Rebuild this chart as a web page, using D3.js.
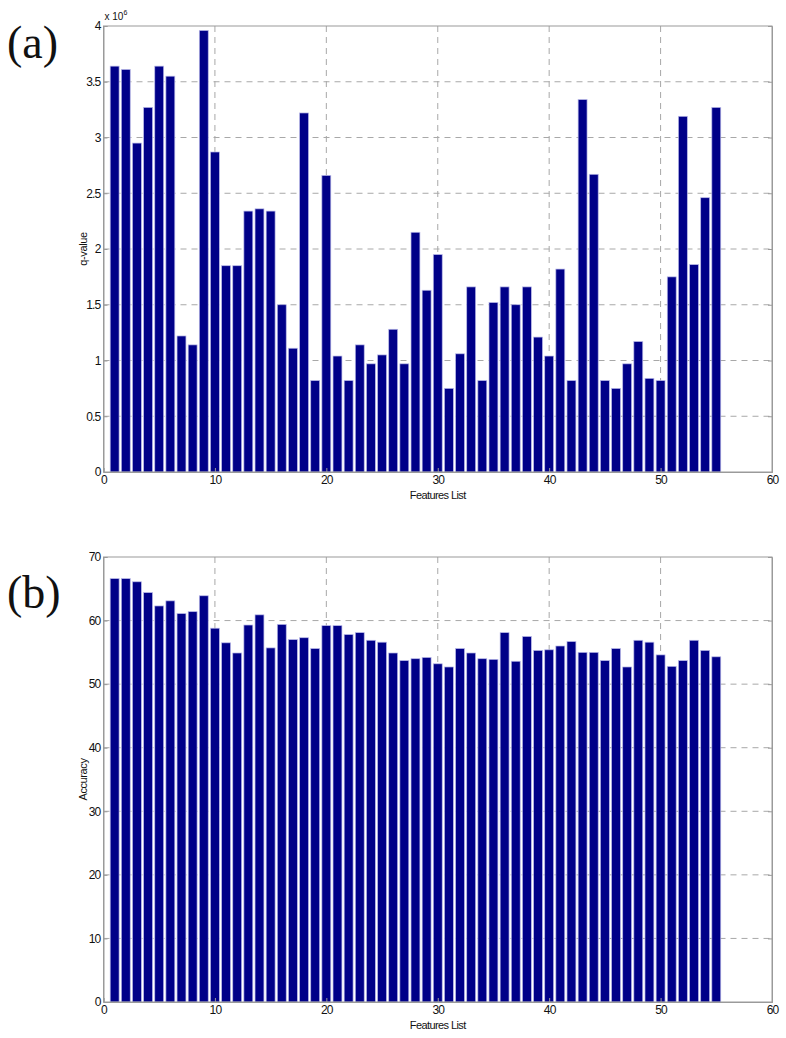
<!DOCTYPE html>
<html>
<head>
<meta charset="utf-8">
<script src="https://cdn.jsdelivr.net/npm/d3@7"></script>
<style>
  body { margin: 0; background: #fff; }
  svg text { font-family: "Liberation Sans", Arial, sans-serif; }
  .panel-label { font-family: "Liberation Serif", "Times New Roman", serif !important; }
</style>
</head>
<body>
<div id="chart"></div>
<script>
// DATA //
const features = d3.range(1, 56);

// q-value, in units of 1e6
const qValues = [
  3.64, 3.61, 2.95, 3.27, 3.64, 3.55, 1.22, 1.14, 3.96, 2.87,
  1.85, 1.85, 2.34, 2.36, 2.34, 1.50, 1.11, 3.22, 0.82, 2.66,
  1.04, 0.82, 1.14, 0.97, 1.05, 1.28, 0.97, 2.15, 1.63, 1.95,
  0.75, 1.06, 1.66, 0.82, 1.52, 1.66, 1.50, 1.66, 1.21, 1.04,
  1.82, 0.82, 3.34, 2.67, 0.82, 0.75, 0.97, 1.17, 0.84, 0.82,
  1.75, 3.19, 1.86, 2.46, 3.27,
];

const accuracy = [
  66.6, 66.6, 66.1, 64.4, 62.3, 63.1, 61.1, 61.4, 63.9, 58.8,
  56.5, 54.9, 59.3, 60.9, 55.7, 59.4, 57.0, 57.3, 55.6, 59.2,
  59.2, 57.8, 58.1, 56.9, 56.6, 54.9, 53.7, 54.0, 54.2, 53.2,
  52.7, 55.6, 54.9, 54.0, 53.9, 58.1, 53.6, 57.5, 55.3, 55.4,
  56.0, 56.7, 55.0, 55.0, 53.7, 55.6, 52.7, 56.9, 56.6, 54.6,
  52.8, 53.7, 56.9, 55.3, 54.3,
];

const xTicks = [0, 10, 20, 30, 40, 50, 60];
const qTicks = [0, 0.5, 1, 1.5, 2, 2.5, 3, 3.5, 4];
const accTicks = [0, 10, 20, 30, 40, 50, 60, 70];

const width = 786;
const height = 1038;
const barColor = "#000088";
const gridColor = "#a8a8a8";

const svg = d3
  .select("#chart")
  .append("svg")
  .attr("width", width)
  .attr("height", height);

function drawPanel(opts) {
  const { values, yDomain, yTicks, top, bottom, yLabel, label, labelY, exponent } = opts;
  const left = 103.5;
  const right = 772;

  const x = d3.scaleLinear().domain([0, 60]).range([left, right]);
  const y = d3.scaleLinear().domain(yDomain).range([bottom, top]);

  const g = svg.append("g");

  // grid lines (behind bars)
  g.selectAll(".vgrid")
    .data(xTicks.filter((t) => t > 0 && t < 60))
    .enter()
    .append("line")
    .attr("x1", (d) => x(d))
    .attr("x2", (d) => x(d))
    .attr("y1", top)
    .attr("y2", bottom)
    .attr("stroke", gridColor)
    .attr("stroke-width", 1)
    .attr("stroke-dasharray", "6,5");

  g.selectAll(".hgrid")
    .data(yTicks.filter((t) => t > yDomain[0] && t < yDomain[1]))
    .enter()
    .append("line")
    .attr("x1", left)
    .attr("x2", right)
    .attr("y1", (d) => y(d))
    .attr("y2", (d) => y(d))
    .attr("stroke", gridColor)
    .attr("stroke-width", 1)
    .attr("stroke-dasharray", "6,5");

  // bars
  g.selectAll(".bar")
    .data(values)
    .enter()
    .append("rect")
    .attr("class", "bar")
    .attr("x", (d, i) => x(features[i] - 0.4))
    .attr("width", x(0.8) - x(0))
    .attr("y", (d) => y(d))
    .attr("height", (d) => y(0) - y(d))
    .attr("fill", barColor)
    .attr("stroke", "#b8b8e8")
    .attr("stroke-width", 0.7);

  // box
  g.append("rect")
    .attr("x", left)
    .attr("y", top)
    .attr("width", right - left)
    .attr("height", bottom - top)
    .attr("fill", "none")
    .attr("stroke", "#9a9a9a")
    .attr("stroke-width", 1);

  // axes
  const xAxis = g
    .append("g")
    .attr("transform", `translate(0,${bottom})`)
    .call(d3.axisBottom(x).tickValues(xTicks).tickSize(-4).tickPadding(3).tickFormat(d3.format("d")));
  const yAxis = g
    .append("g")
    .attr("transform", `translate(${left},0)`)
    .call(d3.axisLeft(y).tickValues(yTicks).tickSize(-4).tickPadding(3).tickFormat((d) => d));
  const yAxisR = g
    .append("g")
    .attr("transform", `translate(${right},0)`)
    .call(d3.axisRight(y).tickValues(yTicks).tickSize(-4).tickFormat(""));

  [xAxis, yAxis, yAxisR].forEach((a) => {
    a.select(".domain").attr("stroke", "#9a9a9a");
    a.selectAll(".tick line").attr("stroke", "#9a9a9a");
    a.selectAll("text").attr("fill", "#111").style("font-size", "12px").style("letter-spacing", "-0.8px");
  });

  // axis titles
  g.append("text")
    .attr("x", x(30))
    .attr("y", bottom + 27)
    .attr("text-anchor", "middle")
    .style("font-size", "11px")
    .style("letter-spacing", "-0.6px")
    .attr("fill", "#111")
    .text("Features List");

  g.append("text")
    .attr("transform", `translate(${left - 17},${(top + bottom) / 2}) rotate(-90)`)
    .attr("text-anchor", "middle")
    .style("font-size", "11px")
    .style("letter-spacing", "-0.4px")
    .attr("fill", "#111")
    .text(yLabel);

  if (exponent) {
    const ex = g.append("text")
      .attr("x", left + 1)
      .attr("y", top - 6)
      .style("font-size", "10px")
      .attr("fill", "#111");
    ex.append("tspan").text("x 10");
    ex.append("tspan").attr("dy", -5).style("font-size", "7px").text(exponent);
  }

  // panel label
  svg.append("text")
    .attr("class", "panel-label")
    .attr("x", 7)
    .attr("y", labelY)
    .style("font-size", "46px")
    .attr("fill", "#111")
    .text(label);
}

drawPanel({
  values: qValues,
  yDomain: [0, 4],
  yTicks: qTicks,
  top: 26,
  bottom: 472,
  yLabel: "q-value",
  label: "(a)",
  labelY: 58,
  exponent: "6",
});

drawPanel({
  values: accuracy,
  yDomain: [0, 70],
  yTicks: accTicks,
  top: 557,
  bottom: 1002,
  yLabel: "Accuracy",
  label: "(b)",
  labelY: 608,
});
</script>
</body>
</html>
